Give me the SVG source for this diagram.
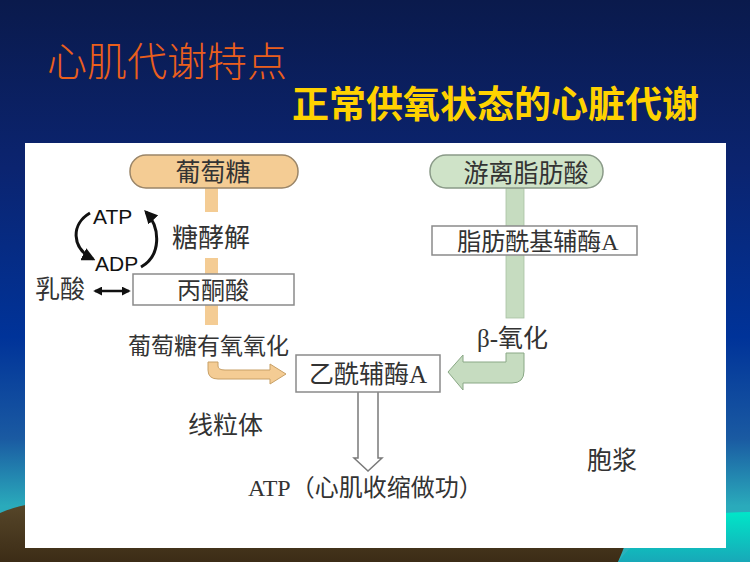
<svg xmlns="http://www.w3.org/2000/svg" width="750" height="562" viewBox="0 0 750 562">
<defs>
<linearGradient id="bg" x1="0" y1="0" x2="0" y2="1">
<stop offset="0" stop-color="#0a1a4c"/>
<stop offset="0.3" stop-color="#0b2470"/>
<stop offset="0.6" stop-color="#003399"/>
<stop offset="0.78" stop-color="#1a5aa2"/>
<stop offset="0.9" stop-color="#2aaabb"/>
<stop offset="1" stop-color="#2ab4bc"/>
</linearGradient>
<linearGradient id="brown" x1="0" y1="0" x2="0" y2="1">
<stop offset="0" stop-color="#5a4a2c"/>
<stop offset="1" stop-color="#3c2c16"/>
</linearGradient>
<linearGradient id="cyan" x1="0" y1="0" x2="0" y2="1">
<stop offset="0" stop-color="#00e6c8"/>
<stop offset="1" stop-color="#18a8b8"/>
</linearGradient>
<style>
.t{font-family:"Liberation Serif","Noto Sans CJK SC",serif;fill:#333;}
.box{fill:#fff;stroke:#8a8a8a;stroke-width:1.5;}
.or{fill:#f4cc94;}
.gr{fill:#c6dcc0;}
.cyc{fill:none;stroke:#111;stroke-width:3;}
.lbl{font-family:"Liberation Sans",sans-serif;font-size:21px;fill:#111;}
</style>
<marker id="ah" viewBox="0 0 10 10" refX="8" refY="5" markerWidth="3.6" markerHeight="3.6" orient="auto-start-reverse">
<path d="M0,0 L10,5 L0,10 z" fill="#111"/>
</marker>
<marker id="ah2" viewBox="0 0 10 10" refX="8" refY="5" markerWidth="4.5" markerHeight="4.5" orient="auto-start-reverse">
<path d="M0,0 L10,5 L0,10 z" fill="#111"/>
</marker>
</defs>
<rect width="750" height="562" fill="url(#bg)"/>
<path d="M0,513 C30,500 80,496 150,496 L600,496 C640,520 625,545 618,562 L0,562 Z" fill="url(#brown)"/>
<path d="M618,562 C640,530 690,512 750,512 L750,562 Z" fill="url(#cyan)"/>
<text x="47" y="76" font-family="Noto Sans CJK SC, sans-serif" font-size="40" font-weight="300" fill="#ea5f1c">心肌代谢特点</text>
<text x="292" y="118" font-family="Noto Sans CJK SC, sans-serif" font-size="37" font-weight="bold" fill="#ffd200">正常供氧状态的心脏代谢</text>
<rect x="25" y="143" width="701" height="405" fill="#fff"/>

<g id="connectors">
<rect class="or" x="205" y="187" width="13" height="25"/>
<rect class="or" x="205" y="258" width="13" height="67"/>
<rect class="gr" x="506" y="188" width="18" height="130" stroke="#a8c0a4" stroke-width="0.8"/>
<path class="gr" stroke="#8aa886" stroke-width="1" d="M506,353 L524,353 L524,371 Q524,383 512,383 L463,383 L463,390 L448,372 L463,355 L463,362 L506,362 Z"/>
<path class="or" stroke="#c8a066" stroke-width="1" d="M208,362 L218,362 L218,366 Q218,370 225,370 L270,370 L270,364 L286,374 L270,384 L270,379 L218,379 Q208,379 208,370 Z"/>
<path d="M358,392 L358,458 L354,458 L368,471 L382,458 L378,458 L378,392" fill="#fff" stroke="#7a7a7a" stroke-width="1.5"/>
<path class="cyc" d="M90,213 C71,224 71,248 93,259" marker-end="url(#ah2)"/>
<path class="cyc" d="M141,267 C161,256 161,228 146,212" marker-end="url(#ah2)"/>
<line x1="95" y1="291" x2="129" y2="291" stroke="#111" stroke-width="2.5" marker-start="url(#ah)" marker-end="url(#ah)"/>
</g>

<g id="glucose">
<rect x="130" y="155" width="168" height="33" rx="16" fill="#f4cc94" stroke="#9a8568" stroke-width="1.5"/>
<text class="t" x="213" y="181" font-size="25" text-anchor="middle">葡萄糖</text>
</g>
<g id="glycolysis"><text class="t" x="172" y="247" font-size="26">糖酵解</text></g>
<g id="atp-adp">
<text class="lbl" x="93" y="224">ATP</text>
<text class="lbl" x="95" y="271">ADP</text>
</g>
<g id="pyruvate">
<rect class="box" x="133" y="274" width="161" height="31"/>
<text class="t" x="213" y="299" font-size="24" text-anchor="middle">丙酮酸</text>
</g>
<g id="lactate"><text class="t" x="35" y="298" font-size="25">乳酸</text></g>
<g id="glucose-ox"><text class="t" x="128" y="354" font-size="23">葡萄糖有氧氧化</text></g>
<g id="ffa">
<rect x="430" y="155" width="173" height="33" rx="16" fill="#cfe3c8" stroke="#8a9a88" stroke-width="1.5"/>
<text class="t" x="526" y="182" font-size="25" text-anchor="middle">游离脂肪酸</text>
</g>
<g id="acyl-coa">
<rect class="box" x="432" y="226" width="205" height="29"/>
<text class="t" x="538" y="250" font-size="24" text-anchor="middle">脂肪酰基辅酶A</text>
</g>
<g id="beta-ox"><text class="t" x="477" y="347" font-size="25">β-氧化</text></g>
<g id="acetyl-coa">
<rect class="box" x="296" y="355" width="144" height="37"/>
<text class="t" x="368" y="383" font-size="25" text-anchor="middle">乙酰辅酶A</text>
</g>
<g id="mito"><text class="t" x="188" y="434" font-size="25">线粒体</text></g>
<g id="atp-out"><text class="t" x="248" y="496" font-size="24">ATP（心肌收缩做功）</text></g>
<g id="cytoplasm"><text class="t" x="587" y="469" font-size="25">胞浆</text></g>
</svg>
